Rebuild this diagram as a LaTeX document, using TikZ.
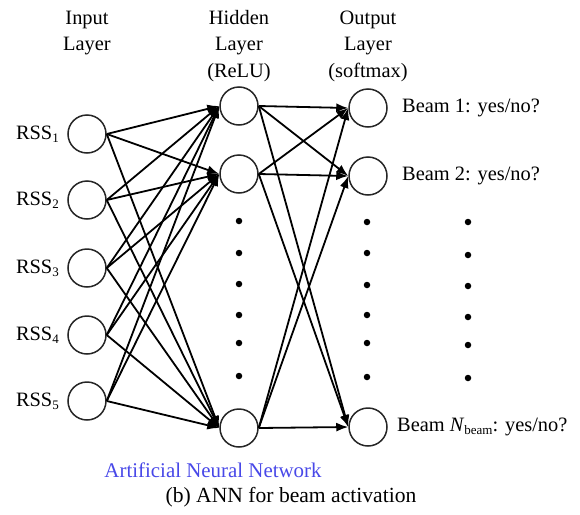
\documentclass[tikz,border=0pt]{standalone}
\usepackage{fontspec}
\setmainfont{Liberation Serif}
\usetikzlibrary{arrows.meta}
\definecolor{annblue}{RGB}{72,72,232}
\newcommand{\lowsub}[1]{\raisebox{-0.35ex}{\fontsize{13}{13}\selectfont #1}}
\begin{document}
\begin{tikzpicture}[x=1pt,y=-1pt,
  neuron/.style={circle,draw=black!85,line width=1.5pt,minimum size=38pt,inner sep=0pt},
  link/.style={line width=1.8pt,-{Latex[length=12pt,width=9pt]}},
  lbl/.style={font=\fontsize{20.4}{26.5}\selectfont,inner sep=0pt,align=center},
  dotmark/.style={circle,fill=black,minimum size=6.5pt,inner sep=0pt}]
\useasboundingbox (0,0) rectangle (580,514);

% layer headings
\node[lbl] (hin)  at (87,33)  {Input\\Layer};
\node[lbl] (hhid) at (239,46) {Hidden\\Layer\\(ReLU)};
\node[lbl] (hout) at (368,46) {Output\\Layer\\(softmax)};

% input neurons
\foreach \i/\y in {1/134,2/200,3/268,4/335,5/401}{
  \node[neuron] (in\i) at (87,\y) {};
  \node[lbl,anchor=east] (rss\i) at (59,\y) {RSS\lowsub{\i}};
}

% hidden neurons
\node[neuron] (h1) at (239,106) {};
\node[neuron] (h2) at (239,174) {};
\node[neuron] (h3) at (239,428) {};

% output neurons
\node[neuron] (o1) at (368,108) {};
\node[neuron] (o2) at (368,176) {};
\node[neuron] (o3) at (368,427) {};

% output labels
\node[lbl,anchor=west] (b1) at (402,108) {Beam 1: yes/no?};
\node[lbl,anchor=west] (b2) at (402,176) {Beam 2: yes/no?};
\node[lbl,anchor=west] (b3) at (397,427) {Beam \textit{N}\lowsub{beam}: yes/no?};

% ellipsis dots
\foreach \k/\y in {1/221,2/253,3/284,4/315,5/343,6/376}{
  \node[dotmark] (dh\k) at (239,\y) {};
}
\foreach \k/\y in {1/222,2/253,3/285,4/315,5/343,6/377}{
  \node[dotmark] (do\k) at (367,\y) {};
}
\foreach \k/\y in {1/222,2/255,3/286,4/317,5/345,6/378}{
  \node[dotmark] (db\k) at (468,\y) {};
}

% input -> hidden connections
\foreach \i in {1,...,5}{
  \foreach \j in {1,2,3}{
    \draw[link] (in\i.east) -- (h\j.west);
  }
}
% hidden -> output connections
\foreach \j in {1,2,3}{
  \foreach \k in {1,2,3}{
    \draw[link] (h\j.east) -- (o\k.west);
  }
}

% captions
\node[lbl,text=annblue,font=\fontsize{20.9}{24}\selectfont] (net) at (213,470) {Artificial Neural Network};
\node[lbl,font=\fontsize{21.6}{24}\selectfont] (cap) at (291,497) {(b) ANN for beam activation};
\end{tikzpicture}
\end{document}
